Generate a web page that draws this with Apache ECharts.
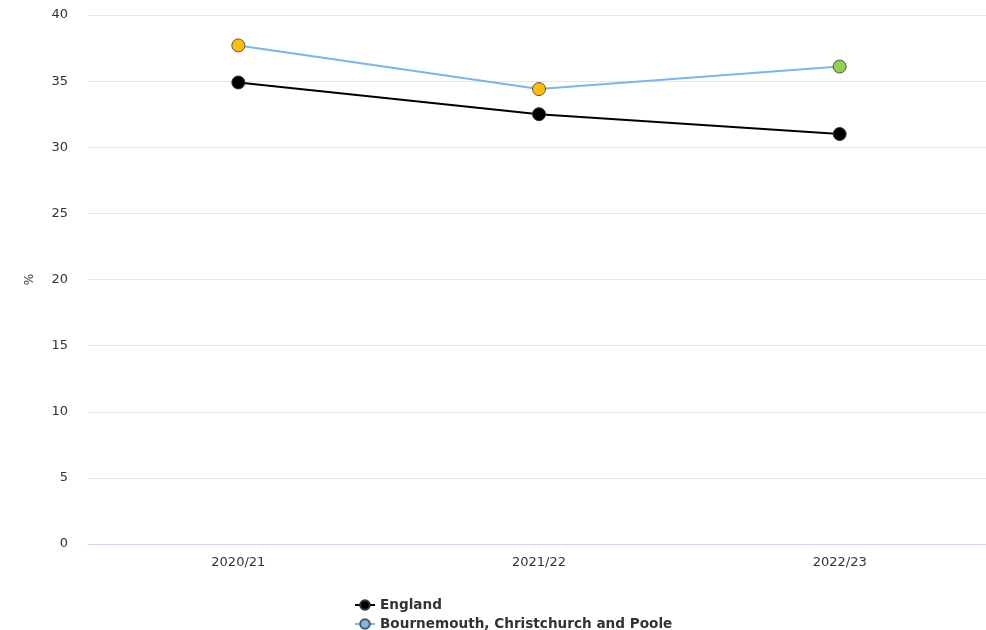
<!DOCTYPE html>
<html>
<head>
<meta charset="utf-8">
<script src="https://cdn.jsdelivr.net/npm/echarts@6/dist/echarts.min.js"></script>
<style>
html,body{margin:0;padding:0;background:#fff;}
#chart{width:986px;height:630px;}
</style>
</head>
<body>
<div id="chart"></div>
<script>
// Categories and values
const years = ['2020/21', '2021/22', '2022/23'];
const englandValues = [34.9, 32.5, 31.0];
const bcpValues = [37.7, 34.4, 36.1];
// Marker fill for each local-authority point (comparison against England)
const bcpPointColours = ['#ffbf00', '#ffbf00', '#92d050'];
const yTicks = [0, 5, 10, 15, 20, 25, 30, 35, 40];

const chart = echarts.init(document.getElementById('chart'));
const fontFamily = '"DejaVu Sans", "Open Sans", sans-serif';

chart.setOption({
  animation: false,
  grid: { left: 88, width: 902, top: 15, height: 529, outerBoundsMode: 'none', containLabel: false },
  legend: {
    orient: 'vertical',
    left: 354,
    top: 598,
    padding: 0,
    itemGap: 5,
    itemWidth: 20,
    itemHeight: 12,
    height: 40,
    textStyle: { fontFamily, fontSize: 13.6, fontWeight: 'bold', color: '#333' },
    data: ['England', 'Bournemouth, Christchurch and Poole']
  },
  xAxis: {
    type: 'category',
    data: years,
    axisLine: { lineStyle: { color: '#ccd6eb' } },
    axisTick: { alignWithLabel: true, length: 6, lineStyle: { color: '#ccd6eb' } },
    axisLabel: { fontFamily, fontSize: 13, color: '#333', margin: 12 }
  },
  yAxis: {
    type: 'value',
    min: yTicks[0],
    max: yTicks[yTicks.length - 1],
    interval: 5,
    name: '%',
    nameLocation: 'middle',
    nameRotate: 90,
    nameGap: 52,
    nameTextStyle: { fontFamily, fontSize: 12, color: '#333' },
    axisLine: { show: false },
    axisTick: { show: false },
    axisLabel: { fontFamily, fontSize: 13, color: '#333', margin: 20 },
    splitLine: { lineStyle: { color: '#e6e6e6' } }
  },
  series: [
    {
      name: 'England',
      type: 'line',
      data: englandValues,
      symbol: 'circle',
      symbolSize: 13,
      lineStyle: { color: '#000', width: 2 },
      itemStyle: { color: '#000', borderColor: '#333', borderWidth: 1 },
      z: 2
    },
    {
      name: 'Bournemouth, Christchurch and Poole',
      type: 'line',
      data: bcpValues.map((v, i) => ({
        value: v,
        itemStyle: { color: bcpPointColours[i] }
      })),
      symbol: 'circle',
      symbolSize: 13,
      lineStyle: { color: '#7cb5ec', width: 2 },
      itemStyle: { color: '#7cb5ec', borderColor: '#555', borderWidth: 1 },
      z: 3
    }
  ]
});
</script>
</body>
</html>
